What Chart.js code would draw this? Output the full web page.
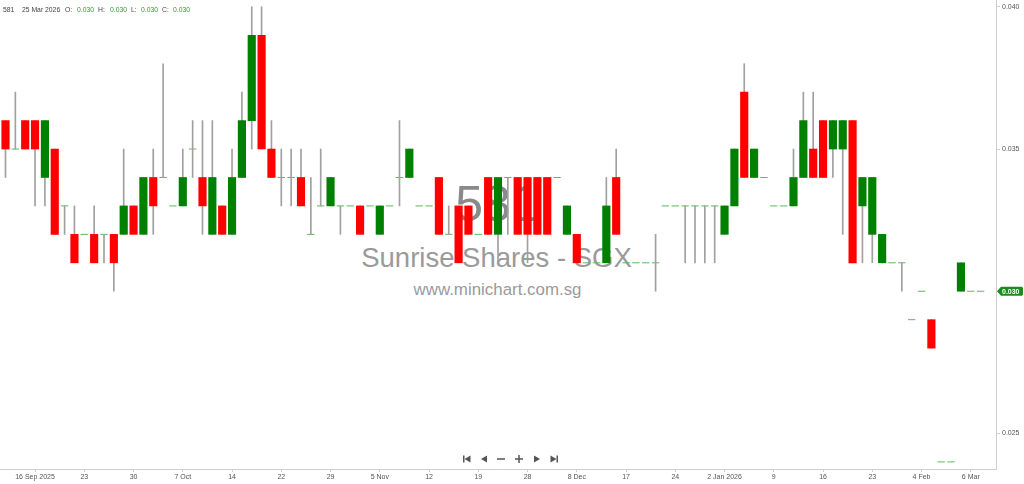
<!DOCTYPE html>
<html>
<head>
<meta charset="utf-8">
<script src="https://cdn.jsdelivr.net/npm/chart.js@4.4.1/dist/chart.umd.min.js"></script>
<style>
  html,body{margin:0;padding:0;background:#fff;}
  #wrap{position:relative;width:1024px;height:484px;overflow:hidden;font-family:"Liberation Sans",Arial,sans-serif;}
  #cv-box{position:absolute;left:0;top:0;width:1024px;height:484px;z-index:2;}
  .wm{position:absolute;z-index:1;transform:translate(-50%,-50%);white-space:nowrap;line-height:1;}
  .hd{position:absolute;z-index:3;top:5px;font-size:6.8px;line-height:10px;color:#444;white-space:nowrap;}
  .hd.g{color:#2f9a2f;}
</style>
</head>
<body>
<div id="wrap">
  <div class="wm" style="left:497px;top:204px;font-size:50px;color:#8a8a8a;">581</div>
  <div class="wm" style="left:496.5px;top:258px;font-size:27.5px;color:#9a9a9a;">Sunrise Shares - SGX</div>
  <div class="wm" style="left:497.5px;top:290px;font-size:16.9px;color:#9a9a9a;">www.minichart.com.sg</div>
  <div id="cv-box"><canvas id="c"></canvas></div>
  <div class="hd" style="left:3px;">581</div>
  <div class="hd" style="left:22px;">25 Mar 2026</div>
  <div class="hd" style="left:65px;">O:</div>
  <div class="hd g" style="left:77px;">0.030</div>
  <div class="hd" style="left:98px;">H:</div>
  <div class="hd g" style="left:110px;">0.030</div>
  <div class="hd" style="left:131px;">L:</div>
  <div class="hd g" style="left:141px;">0.030</div>
  <div class="hd" style="left:162px;">C:</div>
  <div class="hd g" style="left:173px;">0.030</div>
</div>
<script>
// ---- data (one entry per trading day, oldest first) ----
const opens = [
  0.036,0.035,0.036,0.036,0.034,0.035,0.033,0.032,0.032,0.032,
  0.032,0.032,0.032,0.033,0.032,0.034,0.034,0.033,0.033,0.035,
  0.034,0.032,0.033,0.032,0.034,0.036,0.039,0.035,0.034,0.034,
  0.034,0.032,0.033,0.033,0.033,0.033,0.033,0.033,0.032,0.033,
  0.034,0.034,0.033,0.033,0.034,0.032,0.033,0.033,0.032,0.034,
  0.032,0.034,0.034,0.034,0.034,0.034,0.034,0.032,0.032,0.031,
  0.031,0.031,0.034,0.031,0.031,0.031,0.031,0.033,0.033,0.033,
  0.033,0.033,0.033,0.032,0.033,0.037,0.034,0.034,0.033,0.033,
  0.033,0.034,0.035,0.036,0.035,0.035,0.036,0.033,0.032,0.031,
  0.031,0.031,0.029,0.030,0.029,0.024,0.024,0.030,0.030,0.030
];
const highs = [
  0.036,0.037,0.036,0.036,0.036,0.035,0.033,0.033,0.032,0.033,
  0.032,0.032,0.035,0.033,0.034,0.035,0.038,0.033,0.035,0.036,
  0.036,0.036,0.033,0.035,0.037,0.040,0.040,0.036,0.035,0.035,
  0.035,0.034,0.035,0.034,0.033,0.033,0.033,0.033,0.033,0.033,
  0.036,0.035,0.033,0.033,0.034,0.033,0.033,0.033,0.032,0.034,
  0.034,0.034,0.034,0.034,0.034,0.034,0.034,0.033,0.032,0.031,
  0.031,0.034,0.035,0.031,0.031,0.031,0.032,0.033,0.033,0.033,
  0.033,0.033,0.033,0.033,0.035,0.038,0.035,0.034,0.033,0.033,
  0.035,0.037,0.037,0.036,0.036,0.036,0.036,0.034,0.034,0.032,
  0.031,0.031,0.029,0.030,0.029,0.024,0.024,0.031,0.030,0.030
];
const lows = [
  0.034,0.035,0.035,0.033,0.033,0.032,0.032,0.031,0.032,0.031,
  0.031,0.030,0.032,0.032,0.032,0.032,0.034,0.033,0.033,0.034,
  0.032,0.032,0.032,0.032,0.034,0.035,0.035,0.034,0.033,0.033,
  0.033,0.032,0.033,0.033,0.032,0.033,0.032,0.033,0.032,0.033,
  0.033,0.034,0.033,0.033,0.032,0.032,0.031,0.032,0.032,0.032,
  0.031,0.032,0.032,0.031,0.032,0.032,0.034,0.032,0.031,0.031,
  0.031,0.031,0.032,0.031,0.031,0.031,0.030,0.033,0.033,0.031,
  0.031,0.031,0.031,0.032,0.033,0.034,0.034,0.034,0.033,0.033,
  0.033,0.034,0.034,0.034,0.034,0.032,0.031,0.031,0.031,0.031,
  0.031,0.030,0.029,0.030,0.028,0.024,0.024,0.030,0.030,0.030
];
const closes = [
  0.035,0.035,0.035,0.035,0.036,0.032,0.033,0.031,0.032,0.031,
  0.032,0.031,0.033,0.032,0.034,0.033,0.034,0.033,0.034,0.035,
  0.033,0.034,0.032,0.034,0.036,0.039,0.035,0.034,0.034,0.034,
  0.033,0.032,0.033,0.034,0.033,0.033,0.032,0.033,0.033,0.033,
  0.034,0.035,0.033,0.033,0.032,0.032,0.031,0.032,0.032,0.032,
  0.034,0.034,0.032,0.032,0.032,0.032,0.034,0.033,0.031,0.031,
  0.031,0.033,0.032,0.031,0.031,0.031,0.031,0.033,0.033,0.033,
  0.033,0.033,0.033,0.033,0.035,0.034,0.035,0.034,0.033,0.033,
  0.034,0.036,0.034,0.034,0.036,0.036,0.031,0.034,0.034,0.032,
  0.031,0.031,0.029,0.030,0.028,0.024,0.024,0.031,0.030,0.030
];
const tickIndex  = [3,8,13,18,23,28,33,38,43,48,53,58,63,68,73,78,83,88,93,98];
const tickLabels = ['16 Sep 2025','23','30','7 Oct','14','22','29','5 Nov','12','19',
                    '28','8 Dec','17','24','2 Jan 2026','9','16','23','4 Feb','6 Mar'];
const priceTicks = [0.025,0.030,0.035,0.040];

// ---- build datasets from the arrays ----
const bodyData=[], bodyColors=[], wickData=[], dashData=[];
opens.forEach((o,i)=>{
  const c=closes[i], h=highs[i], l=lows[i];
  if(h!==l) wickData.push({x:i,y:[l,h]});
  if(o!==c){ bodyData.push({x:i,y:[Math.min(o,c),Math.max(o,c)]}); bodyColors.push(c>o?'#008000':'#ff0000'); }
  else dashData.push({x:i,y:c});
});
const labelMap={}; tickIndex.forEach((v,k)=>labelMap[v]=tickLabels[k]);

const decor = {
  id:'decor',
  afterDraw(chart){
    const ctx=chart.ctx, ys=chart.scales.y;
    // last price tag
    const last=closes[closes.length-1];
    const y=ys.getPixelForValue(last);
    const x0=ys.left+1;
    ctx.save();
    ctx.fillStyle='#1f8a1f';
    ctx.beginPath();
    ctx.moveTo(x0,y); ctx.lineTo(x0+4,y-4.5); ctx.lineTo(1022,y-4.5);
    ctx.lineTo(1023,y-3.5); ctx.lineTo(1023,y+3.5); ctx.lineTo(1022,y+4.5);
    ctx.lineTo(x0+4,y+4.5); ctx.closePath(); ctx.fill();
    ctx.fillStyle='#fff'; ctx.font='bold 7px "Liberation Sans", Arial, sans-serif';
    ctx.textBaseline='middle'; ctx.textAlign='left';
    ctx.fillText(last.toFixed(3),x0+5,y+0.5);
    // navigation icons
    const iy=459; ctx.fillStyle='#555'; ctx.strokeStyle='#555'; ctx.lineWidth=1.5;
    const triL=(x)=>{ctx.beginPath();ctx.moveTo(x-3,iy);ctx.lineTo(x+3,iy-3.5);ctx.lineTo(x+3,iy+3.5);ctx.closePath();ctx.fill();};
    const triR=(x)=>{ctx.beginPath();ctx.moveTo(x+3,iy);ctx.lineTo(x-3,iy-3.5);ctx.lineTo(x-3,iy+3.5);ctx.closePath();ctx.fill();};
    ctx.fillRect(463,iy-3.5,1.5,7); triL(467.5);
    triL(484);
    ctx.beginPath(); ctx.moveTo(497,iy); ctx.lineTo(505,iy); ctx.stroke();
    ctx.beginPath(); ctx.moveTo(515,iy); ctx.lineTo(523,iy); ctx.moveTo(519,iy-4); ctx.lineTo(519,iy+4); ctx.stroke();
    triR(537);
    triR(553.5); ctx.fillRect(556.5,iy-3.5,1.5,7);
    ctx.restore();
  }
};

new Chart(document.getElementById('c'),{
  type:'bar',
  data:{datasets:[
    {type:'bar',data:bodyData,backgroundColor:bodyColors,barThickness:7.5,grouped:false,borderWidth:0},
    {type:'bar',data:wickData,backgroundColor:'#a0a0a0',barThickness:1,grouped:false,borderWidth:0},
    {type:'line',data:dashData,showLine:false,pointStyle:'line',pointRadius:3.7,
     pointBorderColor:'#5cb85c',pointBorderWidth:1,pointHoverRadius:3.7}
  ]},
  options:{
    responsive:true,maintainAspectRatio:false,animation:false,
    layout:{padding:0,autoPadding:false},
    plugins:{legend:{display:false},tooltip:{enabled:false}},
    events:[],
    scales:{
      x:{type:'linear',min:-0.558,max:100.56,position:'bottom',offset:false,bounds:'data',
        afterBuildTicks:(ax)=>{ax.ticks=tickIndex.map(v=>({value:v}));},
        afterFit:(ax)=>{ax.height=15;ax.paddingLeft=0;ax.paddingRight=0;},
        grid:{drawOnChartArea:false,tickLength:3,color:'#cfcfcf',offset:false},
        border:{color:'#cfcfcf'},
        ticks:{autoSkip:false,maxRotation:0,padding:1,color:'#555',
          font:{size:7,family:'"Liberation Sans", Arial, sans-serif'},
          callback:(v)=>labelMap[v]??''}
      },
      y:{type:'linear',position:'right',min:0.02375,max:0.04024,
        afterBuildTicks:(ax)=>{ax.ticks=priceTicks.map(v=>({value:v}));},
        afterFit:(ax)=>{ax.width=28;ax.paddingTop=0;ax.paddingBottom=0;},
        grid:{drawOnChartArea:false,tickLength:4,color:'#cfcfcf'},
        border:{color:'#cfcfcf'},
        ticks:{padding:2,color:'#555',
          font:{size:7,family:'"Liberation Sans", Arial, sans-serif'},
          callback:(v)=>Math.abs(v-closes[closes.length-1])<1e-9?'':v.toFixed(3)}
      }
    }
  },
  plugins:[decor]
});
</script>
</body>
</html>
